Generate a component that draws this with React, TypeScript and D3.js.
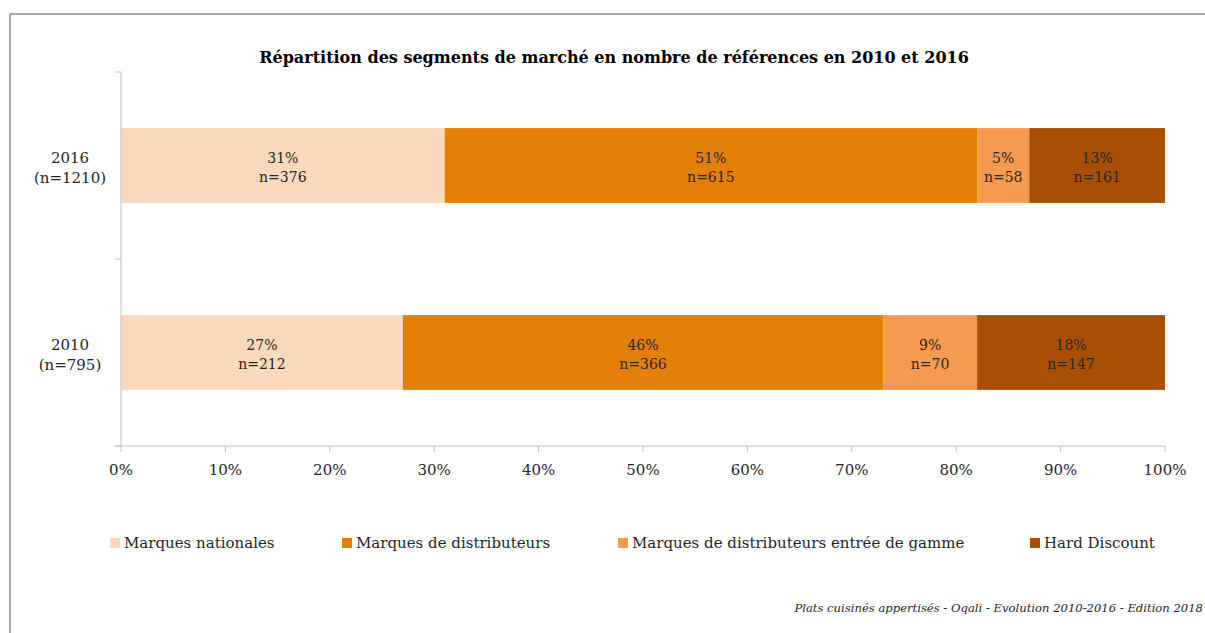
import React from "react";
import * as d3 from "d3";

const years = ["2016", "2010"];
const yearLabels = ["(n=1210)", "(n=795)"];
const segments = [
  "Marques nationales",
  "Marques de distributeurs",
  "Marques de distributeurs entrée de gamme",
  "Hard Discount",
];
const colors = ["#FBD9BD", "#E47F08", "#F69A4F", "#A84F05"];
const pct2016 = [31, 51, 5, 13];
const pct2010 = [27, 46, 9, 18];
const n2016 = [376, 615, 58, 161];
const n2010 = [212, 366, 70, 147];
const xTicks = [0, 10, 20, 30, 40, 50, 60, 70, 80, 90, 100];
const legendX = [110, 342, 618, 1030];

const FONT = "'DejaVu Serif', serif";

export default function App() {
  const W = 1205, H = 633;
  const x = d3.scaleLinear().domain([0, 100]).range([121, 1165]);
  const y = d3.scaleBand<string>().domain(years).range([72, 446]).paddingInner(0.6).paddingOuter(0.3);
  const pcts = [pct2016, pct2010];
  const ns = [n2016, n2010];
  const axisColor = "#BFBFBF";
  const textColor = "#262626";

  return (
    <svg width={W} height={H} style={{ position: "absolute", left: 0, top: 0, background: "#fff" }} fontFamily={FONT}>
      <rect x={0} y={0} width={W} height={H} fill="#fff" />
      <line x1={10} y1={14} x2={W} y2={14} stroke="#8a8a8a" strokeWidth={1.5} />
      <line x1={10} y1={14} x2={10} y2={H} stroke="#8a8a8a" strokeWidth={1.5} />
      <text x={614} y={63} textAnchor="middle" fontSize={16} fontWeight="bold" fill="#000">
        Répartition des segments de marché en nombre de références en 2010 et 2016
      </text>
      {years.map((yr, i) => {
        const stack = d3.cumsum(pcts[i]);
        return (
          <g key={yr}>
            {pcts[i].map((v, j) => {
              const x0 = x(stack[j] - v);
              const x1 = x(stack[j]);
              const cx = (x0 + x1) / 2;
              const cy = y(yr)! + y.bandwidth() / 2;
              return (
                <g key={j}>
                  <rect x={x0} y={y(yr)} width={x1 - x0} height={y.bandwidth()} fill={colors[j]} />
                  <text x={cx} y={cy - 3} textAnchor="middle" fontSize={14} fill={textColor}>{v}%</text>
                  <text x={cx} y={cy + 16} textAnchor="middle" fontSize={14} fill={textColor}>n={ns[i][j]}</text>
                </g>
              );
            })}
            <text x={70} y={y(yr)! + y.bandwidth() / 2 - 3} textAnchor="middle" fontSize={15} fill={textColor}>{yr}</text>
            <text x={70} y={y(yr)! + y.bandwidth() / 2 + 17} textAnchor="middle" fontSize={15} fill={textColor}>{yearLabels[i]}</text>
          </g>
        );
      })}
      <line x1={121} y1={72} x2={121} y2={446} stroke={axisColor} />
      {[72, 72 + y.step(), 446].map((v, i) => (
        <line key={i} x1={115} x2={121} y1={v} y2={v} stroke={axisColor} />
      ))}
      <line x1={115} y1={446} x2={1165} y2={446} stroke={axisColor} />
      {xTicks.map((t) => (
        <g key={t}>
          <line x1={x(t)} x2={x(t)} y1={446} y2={452} stroke={axisColor} />
          <text x={x(t)} y={475} textAnchor="middle" fontSize={15} fill={textColor}>{t}%</text>
        </g>
      ))}
      {segments.map((s, i) => (
        <g key={s}>
          <rect x={legendX[i]} y={538} width={10} height={10} fill={colors[i]} />
          <text x={legendX[i] + 14} y={548} fontSize={15} fill={textColor}>{s}</text>
        </g>
      ))}
      <text x={1203} y={612} textAnchor="end" fontSize={11.6} fontStyle="italic" fill={textColor}>
        Plats cuisinés appertisés - Oqali - Evolution 2010-2016 - Edition 2018
      </text>
    </svg>
  );
}
